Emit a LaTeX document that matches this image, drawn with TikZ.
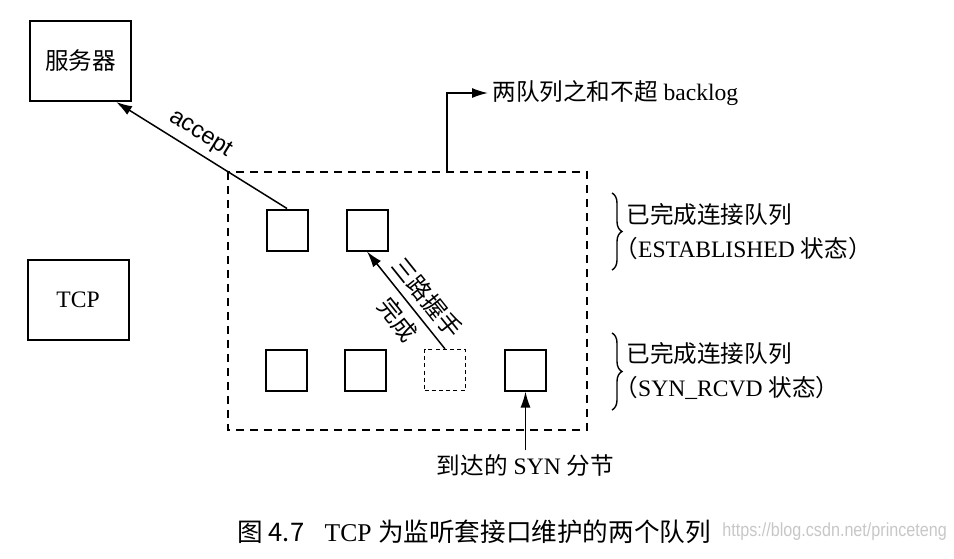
\documentclass[tikz,border=0pt]{standalone}
\usepackage{fontspec}
\setmainfont{Liberation Serif}
\setsansfont{Liberation Sans}
\newfontfamily\cjk{Noto Sans CJK SC}
\newfontfamily\wmfont[FakeStretch=0.85]{Liberation Sans}
\newcommand{\zh}[1]{{\cjk #1}}
\usetikzlibrary{arrows.meta}
\usetikzlibrary{decorations.pathreplacing}

\tikzset{
	hostbox/.style = {draw, line width=1pt, minimum width=50.5pt, minimum height=40pt, inner sep=0pt},
	sock/.style = {draw, line width=1pt, minimum size=20.5pt, inner sep=0pt},
	halfsock/.style = {sock, line width=0.6pt, dash pattern=on 2pt off 1.6pt},
	arr/.style = {-{Latex[length=8pt,width=5pt]}, line width=0.75pt},
	qbrace/.style = {decorate, decoration={brace, amplitude=5pt}, line width=0.7pt},
}

\begin{document}
\begin{tikzpicture}[x=0.5pt, y=-0.5pt, every node/.style={font=\fontsize{11.8}{17}\selectfont}]
	\useasboundingbox (0,0) rectangle (954,558);
	
	% server and TCP
	\node[hostbox] (server) at (80.5,61) {\zh{服务器}};
	\node[hostbox] (tcp) at (78,299.5) {TCP};
	
	% the two queues
	\draw[dash pattern=on 4pt off 3pt, line width=0.7pt] (228,172) rectangle (587,430);
	\node[sock] (est1) at (287,230) {};
	\node[sock] (est2) at (367,230) {};
	\node[sock] (syn1) at (286,370) {};
	\node[sock] (syn2) at (365.5,370) {};
	\node[halfsock] (syn3) at (445,370) {};
	\node[sock] (syn4) at (525.5,370) {};
	
	\draw[arr] (est1.north) -- (server.311)
		node[pos=0.56, sloped, above, font=\sffamily\fontsize{11.8}{17}\selectfont] {accept};
	\draw[arr] (syn3.north) -- (est2.south)
		node[pos=0.41, sloped, above] {\zh{三路握手}}
		node[pos=0.42, sloped, below] {\zh{完成}};
	
	\coordinate (arrive) at (525.5,450);
	\draw[arr] (arrive) -- (syn4.south);
	\node[below, inner sep=2pt] (arrivelbl) at (arrive) {\zh{到达的} SYN \zh{分节}};
	
	% backlog
	\coordinate (qtop) at (447,172);
	\node[right, inner sep=2pt] (backlog) at (488,93) {\zh{两队列之和不超} backlog};
	\draw[arr] (qtop) |- (backlog.west);
	
	% braces
	\draw[qbrace] (612,193) -- (612,270);
	\node[right, align=left, inner sep=2pt] (estq) at (622,232)
		{\zh{已完成连接队列}\\\hspace*{-0.5em}\zh{（}ESTABLISHED \zh{状态）}};
	\draw[qbrace] (612,333) -- (612,410);
	\node[right, align=left, inner sep=2pt] (synq) at (622,371)
		{\zh{已完成连接队列}\\\hspace*{-0.5em}\zh{（}SYN\_RCVD \zh{状态）}};
	
	% caption
	\node[right, inner sep=0pt, font=\fontsize{12.8}{17}\selectfont] (caption) at (237,532)
		{\zh{图 4.7}\hspace{0.8em}TCP \zh{为监听套接口维护的两个队列}};
	\node[right, inner sep=0pt, text=black!22, font=\fontsize{9.5}{11}\selectfont] (mark) at (722,532)
		{\wmfont https://blog.csdn.net/princeteng};
\end{tikzpicture}
\end{document}
